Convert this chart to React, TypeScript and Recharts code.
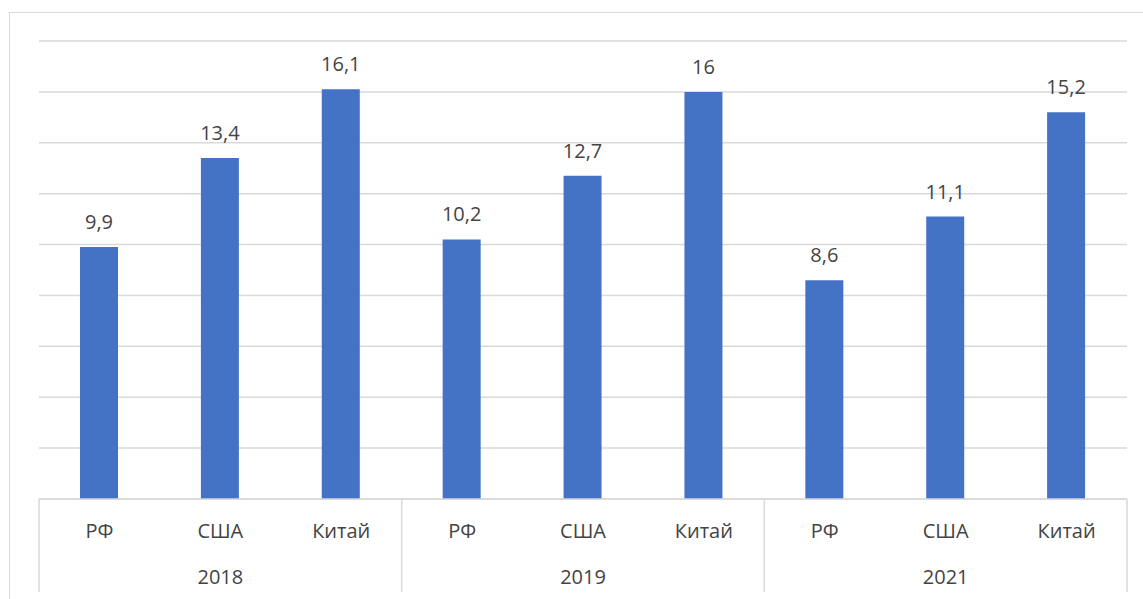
import React from 'react';
import { BarChart, Bar, XAxis, YAxis, CartesianGrid, LabelList } from 'recharts';

const years = ['2018', '2019', '2021'];
const countries = ['РФ', 'США', 'Китай'];
const values2018 = [9.9, 13.4, 16.1];
const values2019 = [10.2, 12.7, 16];
const values2021 = [8.6, 11.1, 15.2];
const yTicks = [0, 2, 4, 6, 8, 10, 12, 14, 16, 18];

const seriesByYear = [values2018, values2019, values2021];
const rows = years.flatMap((yr, gi) =>
  countries.map((c, ci) => ({ key: `${yr}-${c}`, country: c, year: yr, value: seriesByYear[gi][ci] }))
);

const W = 1143;
const H = 599;
const MARGIN = { top: 41, right: 16, left: 39, bottom: 0 };
const PLOT_W = W - MARGIN.left - MARGIN.right;
const BAND = PLOT_W / rows.length;
const GRID = '#d9d9d9';
const TEXT = '#444444';
const FONT = '"Open Sans", "Noto Sans", sans-serif';

const CategoryTick = (props: any) => {
  const { x, y, payload } = props;
  const i = payload?.index ?? props.index ?? 0;
  const row = rows[i];
  const perGroup = countries.length;
  return (
    <g>
      <text x={x} y={y + 39} textAnchor="middle" fill={TEXT} fontSize={20} fontFamily={FONT}>
        {row.country}
      </text>
      {i % perGroup === 1 && (
        <text x={x} y={y + 85} textAnchor="middle" fill={TEXT} fontSize={20} fontFamily={FONT}>
          {row.year}
        </text>
      )}
      {i % perGroup === 0 && (
        <line x1={x - BAND / 2} x2={x - BAND / 2} y1={y} y2={y + 93} stroke={GRID} strokeWidth={1.5} />
      )}
      {i === rows.length - 1 && (
        <line x1={x + BAND / 2} x2={x + BAND / 2} y1={y} y2={y + 93} stroke={GRID} strokeWidth={1.5} />
      )}
    </g>
  );
};

export default function App() {
  return (
    <div style={{ position: 'absolute', left: 0, top: 0, width: W, height: H, overflow: 'hidden', background: '#fff' }}>
      <div
        style={{
          position: 'absolute',
          left: 9,
          top: 12,
          width: 1300,
          height: 800,
          borderLeft: `1px solid ${GRID}`,
          borderTop: `1px solid ${GRID}`,
        }}
      />
      <div style={{ position: 'absolute', left: 0, top: 0 }}>
        <BarChart width={W} height={H} data={rows} margin={MARGIN}>
          <CartesianGrid vertical={false} stroke={GRID} strokeWidth={1.5} />
          <YAxis hide domain={[0, 18]} ticks={yTicks} type="number" />
          <XAxis
            dataKey="country"
            interval={0}
            height={100}
            tickSize={0}
            tickMargin={0}
            tickLine={false}
            axisLine={{ stroke: GRID, strokeWidth: 1.5 }}
            tick={<CategoryTick />}
          />
          <Bar dataKey="value" fill="#4472C4" barSize={38} isAnimationActive={false}>
            <LabelList
              dataKey="value"
              position="top"
              offset={18}
              fill={TEXT}
              fontSize={20}
              fontFamily={FONT}
              formatter={(v: any) => String(v).replace('.', ',')}
            />
          </Bar>
        </BarChart>
      </div>
    </div>
  );
}
